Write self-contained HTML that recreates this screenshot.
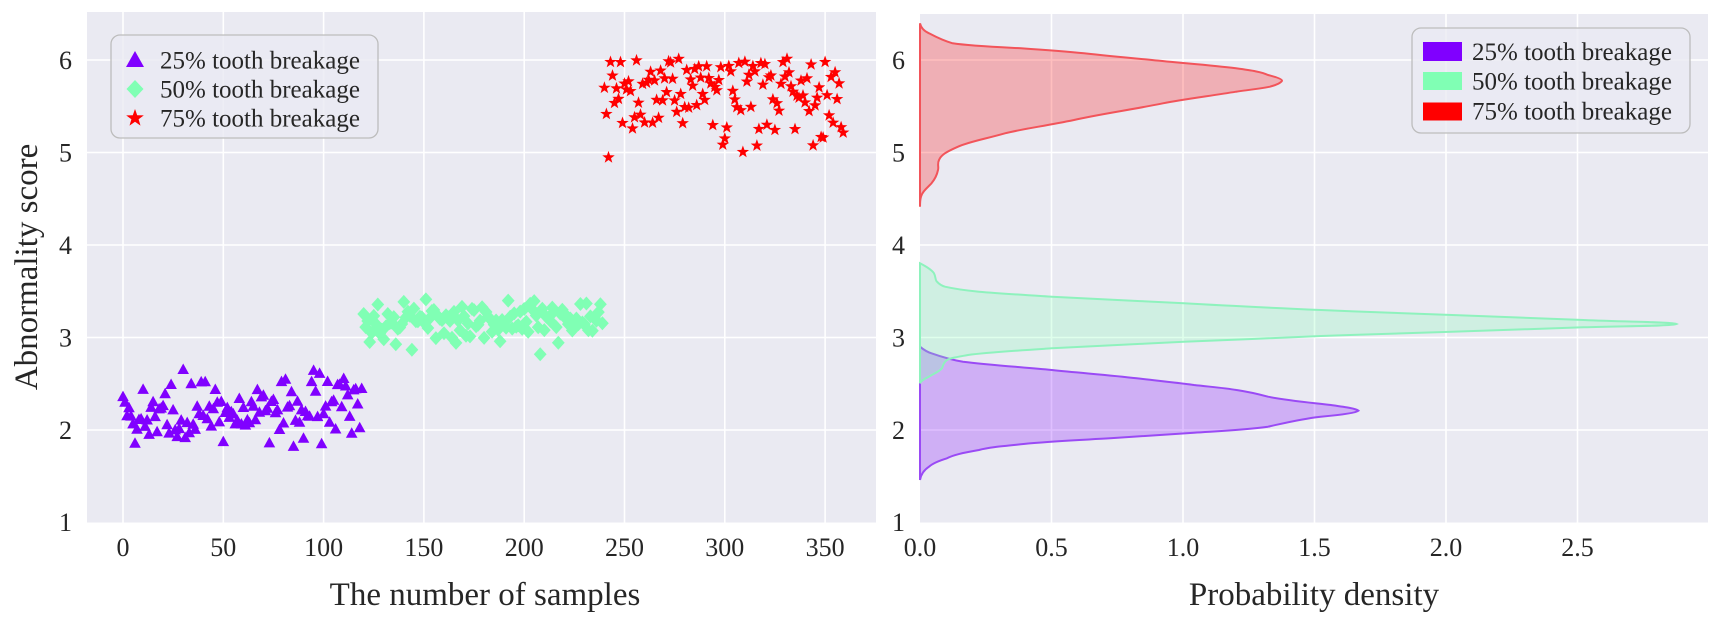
<!DOCTYPE html>
<html>
<head>
<meta charset="utf-8">
<style>
html,body{margin:0;padding:0;background:#fff;}
svg{display:block;}
text{font-family:"Liberation Serif","Times New Roman",serif;fill:#262626;}
</style>
</head>
<body>
<svg id="s" width="1719" height="622" viewBox="0 0 1719 622" xmlns="http://www.w3.org/2000/svg">
<defs>
<path id="tri" d="M0,-6.2 L5.8,4.3 L-5.8,4.3Z" fill="#8000ff"/>
<path id="dia" d="M0,-7 L6.4,0 L0,7 L-6.4,0Z" fill="#80ffb4"/>
<path id="star" d="M0,-6.5 L1.55,-2.1 L6.2,-2 L2.5,0.8 L3.8,5.3 L0,2.6 L-3.8,5.3 L-2.5,0.8 L-6.2,-2 L-1.55,-2.1Z" fill="#ff0000"/>
</defs>

<!-- LEFT AXES -->
<rect x="87" y="12" width="789" height="510.5" fill="#eaeaf2"/>
<g stroke="#ffffff" stroke-width="1.6">
<line x1="123" y1="12" x2="123" y2="522.5"/>
<line x1="223.3" y1="12" x2="223.3" y2="522.5"/>
<line x1="323.6" y1="12" x2="323.6" y2="522.5"/>
<line x1="423.9" y1="12" x2="423.9" y2="522.5"/>
<line x1="524.2" y1="12" x2="524.2" y2="522.5"/>
<line x1="624.5" y1="12" x2="624.5" y2="522.5"/>
<line x1="724.8" y1="12" x2="724.8" y2="522.5"/>
<line x1="825.1" y1="12" x2="825.1" y2="522.5"/>
<line x1="87" y1="430" x2="876" y2="430"/>
<line x1="87" y1="337.5" x2="876" y2="337.5"/>
<line x1="87" y1="245" x2="876" y2="245"/>
<line x1="87" y1="152.5" x2="876" y2="152.5"/>
<line x1="87" y1="60" x2="876" y2="60"/>
</g>
<g id="pts"></g>

<!-- left ticks -->
<g font-size="26" text-anchor="end">
<text x="72" y="531">1</text>
<text x="72" y="439">2</text>
<text x="72" y="346.5">3</text>
<text x="72" y="254">4</text>
<text x="72" y="161.5">5</text>
<text x="72" y="69">6</text>
</g>
<g font-size="26" text-anchor="middle">
<text x="123" y="556">0</text>
<text x="223.3" y="556">50</text>
<text x="323.6" y="556">100</text>
<text x="423.9" y="556">150</text>
<text x="524.2" y="556">200</text>
<text x="624.5" y="556">250</text>
<text x="724.8" y="556">300</text>
<text x="825.1" y="556">350</text>
</g>
<text x="485" y="605" font-size="33" text-anchor="middle">The number of samples</text>
<text transform="translate(37,267) rotate(-90)" font-size="33" text-anchor="middle">Abnormality score</text>

<!-- left legend -->
<rect x="111" y="35" width="267" height="103" rx="9" ry="9" fill="#eaeaf2" fill-opacity="0.8" stroke="#bdbdbd" stroke-width="1.3"/>
<path d="M135,51 L144,67 L126,67Z" fill="#8000ff"/>
<path d="M135,80 L143.5,89 L135,98 L126.5,89Z" fill="#80ffb4"/>
<path d="M135,109 L137.2,115.2 L143.8,115.4 L138.6,119.3 L140.5,125.6 L135,121.8 L129.5,125.6 L131.4,119.3 L126.2,115.4 L132.8,115.2Z" fill="#ff0000"/>
<g font-size="25">
<text x="160" y="68.5">25% tooth breakage</text>
<text x="160" y="97.5">50% tooth breakage</text>
<text x="160" y="126.5">75% tooth breakage</text>
</g>

<!-- RIGHT AXES -->
<rect x="920" y="14" width="788" height="508.5" fill="#eaeaf2"/>
<g stroke="#ffffff" stroke-width="1.6">
<line x1="1051.5" y1="14" x2="1051.5" y2="522.5"/>
<line x1="1183" y1="14" x2="1183" y2="522.5"/>
<line x1="1314.5" y1="14" x2="1314.5" y2="522.5"/>
<line x1="1446" y1="14" x2="1446" y2="522.5"/>
<line x1="1577.5" y1="14" x2="1577.5" y2="522.5"/>
<line x1="920" y1="430" x2="1708" y2="430"/>
<line x1="920" y1="337.5" x2="1708" y2="337.5"/>
<line x1="920" y1="245" x2="1708" y2="245"/>
<line x1="920" y1="152.5" x2="1708" y2="152.5"/>
<line x1="920" y1="60" x2="1708" y2="60"/>
</g>

<!-- purple KDE -->
<path d="M920,346.7 C924,350 927,352 931.5,353.3 C942,357 952,360 963,361.7 C990,365 1020,367 1052,370 C1080,373 1110,375 1136.6,378.3 C1160,381 1180,383 1194,385 C1212,387 1225,388 1236.5,390 C1250,392 1258,394 1268,396.7 C1290,401 1315,403 1331,405 C1345,407 1356,408.5 1358.5,410.7 C1356,413 1340,415 1320.6,416.7 C1300,419 1285,423 1268,426.7 C1245,430 1220,431 1194,432.7 C1160,435 1135,436.5 1110,438.3 C1080,440 1055,441 1031,443.3 C1005,446 990,447 979,450 C962,453 953,455 947,458.3 C938,461 932,464 929,466.7 C924,470 921,474 920,480 Z" fill="#8000ff" fill-opacity="0.25" stroke="#9a4af5" stroke-width="2"/>
<!-- green KDE -->
<path d="M920,263.3 C925,266 931,269 934,273.3 C936,277 935,280 937,281.7 C939,284 941,285.5 945,286.7 C955,289 966,290.5 979,291.7 C1000,293.5 1025,295 1052,296.7 C1095,299 1140,301 1184,303.3 C1230,306 1275,308 1321,310 C1365,312 1410,313.5 1452,315 C1495,317 1540,318 1583.5,320 C1630,322 1672,322 1676.5,324 C1672,326 1630,326 1583.5,327.3 C1540,329 1495,330 1452,331.7 C1410,333 1365,334.5 1321,336 C1275,338 1230,340 1184,341.7 C1140,344 1095,346 1052,348.3 C1010,351 985,352.5 968,355 C957,357 950,358 947,360 C943,363 943,366 942,368.3 C939,372 933,374 929,376.7 C924,379 921,381 920,383.3 Z" fill="#80ffb4" fill-opacity="0.25" stroke="#8ef2bd" stroke-width="2"/>
<!-- red KDE -->
<path d="M920,23.3 C921,28 924,31 929,33.3 C936,37 944,41 952.6,43.3 C970,46 995,47 1021,48.3 C1045,50 1065,51.5 1084,53.3 C1108,56 1130,58 1152,60 C1180,63 1210,65 1236,68.3 C1252,70.5 1262,72 1268,75 C1276,77 1282,79 1282,80.7 C1281,83 1276,85 1270,86.7 C1258,89 1248,90 1236,91.7 C1210,96 1185,99 1163,103.3 C1130,110 1100,114 1074,120 C1045,126 1022,129 1005,133.3 C985,139 968,142 958,146.7 C946,152 941,155 939,160 C937,164 939,167 938,170 C937,175 935,179 931.5,183.3 C927,188 922,192 921,196.7 C920,200 920,203 920,206.7 Z" fill="#ff0000" fill-opacity="0.25" stroke="#f2545a" stroke-width="2"/>

<!-- right ticks -->
<g font-size="26" text-anchor="end">
<text x="905" y="531">1</text>
<text x="905" y="439">2</text>
<text x="905" y="346.5">3</text>
<text x="905" y="254">4</text>
<text x="905" y="161.5">5</text>
<text x="905" y="69">6</text>
</g>
<g font-size="26" text-anchor="middle">
<text x="920" y="556">0.0</text>
<text x="1051.5" y="556">0.5</text>
<text x="1183" y="556">1.0</text>
<text x="1314.5" y="556">1.5</text>
<text x="1446" y="556">2.0</text>
<text x="1577.5" y="556">2.5</text>
</g>
<text x="1314" y="605" font-size="33" text-anchor="middle">Probability density</text>

<!-- right legend -->
<rect x="1412" y="28" width="278" height="105" rx="9" ry="9" fill="#eaeaf2" fill-opacity="0.8" stroke="#bdbdbd" stroke-width="1.3"/>
<rect x="1423" y="42" width="39" height="19" fill="#8000ff"/>
<rect x="1423" y="72" width="39" height="18" fill="#80ffb4"/>
<rect x="1423" y="102.5" width="39" height="18" fill="#ff0000"/>
<g font-size="25">
<text x="1472" y="60">25% tooth breakage</text>
<text x="1472" y="89.5">50% tooth breakage</text>
<text x="1472" y="119.5">75% tooth breakage</text>
</g>
</svg>
<script>
(function(){
var s=20231;
function r(){s=(s*16807)%2147483647;return (s-1)/2147483646;}
function n(){var u=r();if(u<1e-9)u=1e-9;var v=r();return Math.sqrt(-2*Math.log(u))*Math.cos(2*Math.PI*v);}
function xp(i){return 123+i*2.006;}
function yp(v){return 522.5-(v-1)*92.5;}
function clip(v,a,b){return v<a?a:(v>b?b:v);}
var g=document.getElementById('pts');
var html='';
for(var i=0;i<360;i++){
  var v,id;
  if(i<120){v=clip(2.2+0.19*n()+0.0012*(i-60),1.72,2.66);id='tri';}
  else if(i<240){v=clip(3.17+0.12*n(),2.7,3.66);id='dia';}
  else {v=5.65+0.3*n(); if(v>6.07)v=6.07-r()*0.4; v=clip(v,4.74,6.07);id='star';}
  html+='<use href="#'+id+'" x="'+xp(i).toFixed(1)+'" y="'+yp(v).toFixed(1)+'"/>';
}
g.innerHTML=html;
})();
</script>
</body>
</html>
